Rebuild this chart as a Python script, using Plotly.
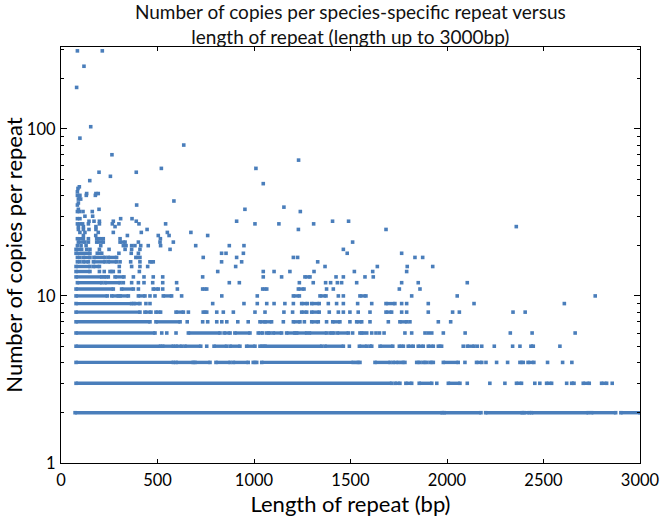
import plotly.graph_objects as go

# ---------------- data ----------------
# Dense horizontal runs of points: copy number, first and last repeat length (bp)
run_copies = [2, 2, 2, 2, 2, 2, 2,
              3, 3, 3, 3, 3, 3, 3, 3, 3, 3,
              4, 4, 4, 4, 4, 4, 4, 4, 4, 4, 4, 4, 4, 4, 4, 4, 4, 4,
              5, 5, 5, 5, 5, 5, 5, 5, 5, 5, 5, 5, 5, 5, 5, 5, 5, 5, 5, 5,
              6, 6, 6, 6, 6, 6, 6, 6, 6, 6, 6, 6, 6,
              7, 7, 7, 7, 7, 7, 7, 7,
              8, 8, 8, 8, 8, 8, 8, 8,
              9, 9, 9, 9, 9,
              10, 10, 10, 10, 10, 10, 10, 10,
              11, 11, 11, 11, 11, 11,
              12, 12,
              13, 13, 13, 13,
              14, 14,
              15, 15,
              16, 16, 16, 16,
              17, 17, 17, 17,
              18, 18,
              19,
              21, 21, 21,
              22, 22]
run_start = [73, 1985, 2200, 2399, 2438, 2749, 2901,
             78, 1731, 1787, 1856, 2007, 2360, 2516, 2646, 2706, 2801,
             78, 596, 694, 803, 893, 996, 1040, 1532, 1627, 1722, 1765, 1843, 1877, 1912, 1981, 2153, 2378, 2420,
             78, 527, 596, 642, 793, 876, 962, 1031, 1057, 1368, 1546, 1601, 1653, 1753, 1799, 1851, 1903, 1955, 2105, 2435,
             78, 660, 845, 901, 1022, 1066, 1100, 1169, 1221, 1287, 1394, 1432, 1549,
             78, 492, 1031, 1204, 1299, 1408, 1532, 1756,
             78, 435, 492, 596, 737, 1247, 1299, 1684,
             78, 378, 1247, 1299, 1684,
             78, 263, 306, 401, 530, 1204, 1342, 1549,
             78, 314, 478, 734, 1045, 1230,
             85, 228,
             78, 224, 280, 1264,
             78, 254,
             78, 168,
             116, 168, 245, 461,
             116, 171, 245, 388,
             78, 188,
             78,
             90, 185, 306,
             85, 185]
run_end = [1975, 2176, 2390, 2426, 2732, 2874, 3000,
           1713, 1756, 1817, 1921, 2067, 2386, 2542, 2658, 2737, 2827,
           582, 685, 772, 876, 970, 1014, 1514, 1549, 1705, 1747, 1782, 1860, 1894, 1929, 2058, 2180, 2395, 2450,
           516, 582, 625, 724, 858, 927, 1005, 1048, 1351, 1463, 1584, 1610, 1719, 1774, 1825, 1877, 1929, 1972, 2140, 2447,
           487, 824, 876, 979, 1045, 1083, 1143, 1212, 1273, 1376, 1414, 1489, 1567,
           461, 617, 1091, 1238, 1333, 1445, 1558, 1791,
           409, 466, 516, 634, 755, 1273, 1338, 1713,
           366, 409, 1276, 1338, 1730,
           240, 297, 349, 435, 573, 1235, 1373, 1580,
           271, 375, 504, 755, 1066, 1259,
           211, 306,
           211, 245, 326, 1290,
           150, 271,
           150, 199,
           142, 228, 288, 478,
           150, 228, 288, 409,
           150, 211,
           107,
           124, 219, 332,
           116, 219]

# Isolated points: repeat length (bp) and copy number
pt_length = [1947, 2105, 2222, 2300, 2455, 2481, 2620, 2856,
             2093, 2202, 2257, 2314, 2521, 2599, 2647,
             755, 1494, 2084, 2157, 2180, 2245, 2340, 2378, 2585,
             522, 548, 596, 1511, 1584, 1610, 1632, 1650, 1674, 1782, 1817, 1886, 1903, 1921, 1981, 2094, 2328, 2441, 2664,
             654, 734, 760, 807, 833, 859, 916, 970, 1057, 1152, 1261, 1376, 1497, 1601, 1696, 1808, 1955, 2019,
             660, 807, 841, 893, 1005, 1057, 1155, 1200, 1390, 1437, 1463, 1497, 1540, 1601, 1765, 1791, 1903, 2029, 2064, 2342, 2405,
             440, 461, 786, 948, 1017, 1066, 1104, 1160, 1204, 1385, 1428, 1463, 1537, 1610, 1765, 1791, 1903, 2140, 2608,
             461, 487, 625, 833, 1017, 1437, 1463, 1817, 2053, 2768,
             401, 527, 603, 1376, 1411, 1753, 1860,
             323, 366, 401, 430, 475, 527, 599, 872, 924, 1235, 1307, 1371, 1397, 1432, 1454, 1532, 1765, 1851, 2105,
             375, 430, 478, 527, 734, 1048, 1143, 1425, 1463, 1575, 1618,
             199, 224, 302, 406, 812, 1048, 1104, 1186, 1311, 1520, 1615, 1791,
             302, 366, 409, 449, 905, 1368, 1639, 1794, 1926,
             85, 98, 306, 361, 409, 832, 936, 1330,
             85, 98, 737, 910, 1204, 1226, 1834, 1874,
             300, 364, 401, 832, 855, 945, 1483, 1765,
             133, 150, 199, 249, 332, 366, 409, 565, 1463,
             85, 104, 130, 206, 323, 337, 366, 383, 413, 452, 516, 698, 872, 948,
             142, 401, 513, 582, 1511,
             142, 199, 306, 515,
             116, 180, 344, 504, 560, 760,
             98, 124, 193, 271, 416, 551, 673,
             90, 116, 145, 181, 446, 1230, 1684,
             90, 116, 181, 280, 2359,
             85, 98, 112, 142, 199, 266, 300, 404, 542, 1005, 1129, 1309,
             145, 171, 199, 271, 390, 910, 1407, 1490,
             85, 98, 309, 368,
             124, 164,
             85, 95, 114, 162, 1240,
             90, 197, 953,
             1155,
             85, 392,
             90,
             585,
             90, 102,
             95,
             85, 98, 131, 178,
             133, 181, 193,
             85,
             88,
             95,
             1048,
             149, 256, 197, 390, 520, 1010, 1231, 264, 636, 98, 154, 81, 119, 85, 214]
pt_copies = [3] * 8 + [4] * 7 + [5] * 9 + [6] * 19 + [7] * 18 + [8] * 21 + [9] * 19 + [10] * 10 + [11] * 7 \
    + [12] * 19 + [13] * 11 + [14] * 12 + [15] * 9 + [16] * 8 + [17] * 8 + [18] * 8 + [19] * 9 + [20] * 14 \
    + [21] * 5 + [22] * 4 + [23] * 6 + [24] * 7 + [25] * 7 + [26] * 5 + [27] * 12 + [28] * 8 + [29] * 4 \
    + [30] * 2 + [32] * 5 + [33] * 3 + [34] * 1 + [35] * 2 + [36] * 1 + [37] * 1 + [38] * 2 + [39] * 1 \
    + [40] * 4 + [41] * 3 + [42] * 1 + [44] * 1 + [45] * 1 + [47] * 1 \
    + [49, 52, 55, 55, 58, 58, 65, 70, 80, 88, 103, 177, 237, 293, 293]

x_ticks = [0, 500, 1000, 1500, 2000, 2500, 3000]
y_ticks = [1, 10, 100]
y_minor = [2, 3, 4, 5, 6, 7, 8, 9, 20, 30, 40, 50, 60, 70, 80, 90, 200, 300]

title_text = "Number of copies per species-specific repeat versus<br>length of repeat (length up to 3000bp)"
x_title = "Length of repeat (bp)"
y_title = "Number of copies per repeat"

# ---------------- figure ----------------
blue = "#4a7ebb"
FONT = "Lato"

run_x, run_y = [], []
for c, s, e in zip(run_copies, run_start, run_end):
    run_x += [s, e, None]
    run_y += [c, c, None]

fig = go.Figure()
fig.add_trace(go.Scatter(
    x=run_x, y=run_y, mode="lines+markers",
    line=dict(color=blue, width=3.4),
    marker=dict(symbol="square", size=3.6, color=blue, line=dict(width=0)),
    hoverinfo="skip", showlegend=False, cliponaxis=True))
fig.add_trace(go.Scatter(
    x=pt_length, y=pt_copies, mode="markers",
    marker=dict(symbol="square", size=3.6, color=blue, line=dict(width=0)),
    showlegend=False, cliponaxis=True))

axis_common = dict(
    showline=True, linecolor="black", linewidth=1.3, mirror="allticks",
    ticks="inside", tickcolor="black", showgrid=False, zeroline=False,
    automargin=False,
    tickfont=dict(family=FONT, size=16.5, color="black"),
)

fig.update_layout(
    width=661, height=520,
    paper_bgcolor="white", plot_bgcolor="white",
    margin=dict(l=61, r=21, t=47, b=57),
    font=dict(family=FONT, color="black"),
    title=dict(text=title_text, x=0.53, xanchor="center", y=0.963, yanchor="top",
               font=dict(family=FONT, size=19, color="#111111")),
    xaxis=dict(range=[0, 3000], tickvals=x_ticks, ticklen=4, tickwidth=1, ticklabelstandoff=2,
               title=dict(text=x_title, font=dict(family=FONT, size=22, color="black"), standoff=5),
               **axis_common),
    yaxis=dict(type="log", range=[0, 2.49], tickvals=y_ticks, ticktext=[str(v) for v in y_ticks],
               ticklen=6, tickwidth=1, ticklabelstandoff=1,
               minor=dict(tickvals=y_minor, ticks="inside", ticklen=3, tickcolor="black", showgrid=False),
               title=dict(text=y_title, font=dict(family=FONT, size=22, color="black"), standoff=7),
               **axis_common),
)

fig.write_html("out.html", config={"displayModeBar": False},
               post_script="document.body.style.margin='0';document.body.style.overflow='hidden';")
